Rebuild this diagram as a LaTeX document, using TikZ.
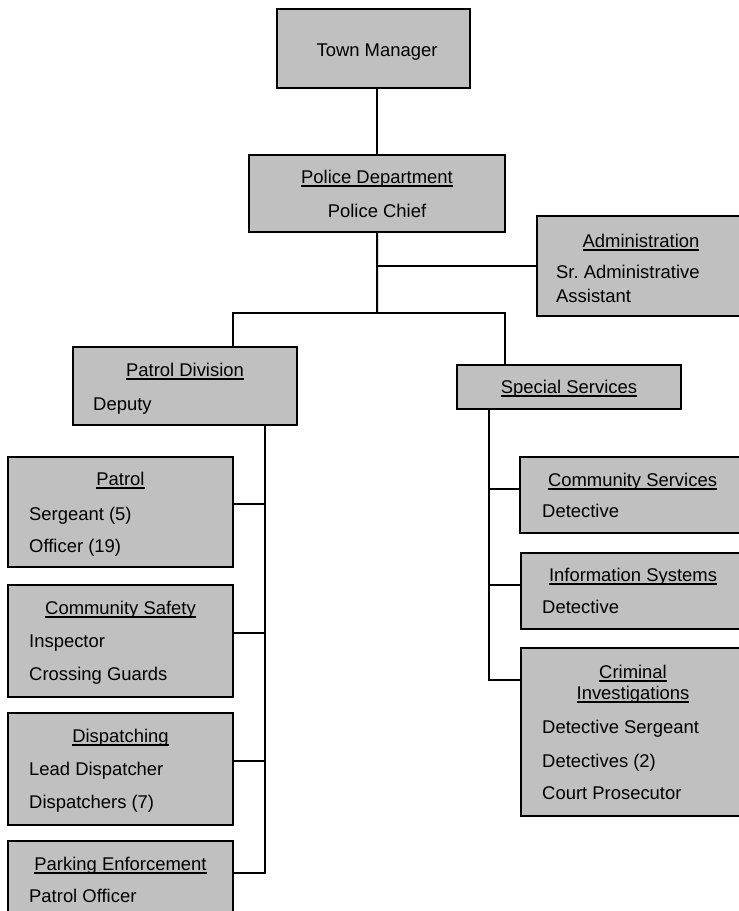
\documentclass[tikz,border=0pt]{standalone}
\usepackage{fontspec}
\setmainfont{Liberation Sans}
\definecolor{boxgray}{HTML}{C0C0C0}
\newcommand{\undl}[1]{\setbox0\hbox{#1}\rlap{\vrule height -2.2bp depth 3.6bp width \wd0}\box0}

\begin{document}
\begin{tikzpicture}[x=1bp,y=-1bp,
	unit/.style={shape=rectangle,draw=black,line width=2bp,fill=boxgray,anchor=north west,inner sep=0pt,outer sep=0pt},
	head/.style={anchor=base,inner sep=0pt,font=\fontsize{18.5}{21}\selectfont},
	item/.style={anchor=base west,inner sep=0pt,font=\fontsize{18.5}{21}\selectfont},
	link/.style={line width=2bp}]
	\clip (0,0) rectangle (739,911);

	% boxes
	\node (townMgr) at (277,9)[unit,minimum width=193bp,minimum height=79bp] {};
	\node (policeDep) at (249,155)[unit,minimum width=256bp,minimum height=77bp] {};
	\node (admin) at (537,216)[unit,minimum width=208bp,minimum height=100bp] {};
	\node (patrolDiv) at (73,347)[unit,minimum width=224bp,minimum height=78bp] {};
	\node (specServ) at (457,365)[unit,minimum width=224bp,minimum height=44bp] {};
	\node (patrol) at (8,457)[unit,minimum width=225bp,minimum height=110bp] {};
	\node (commSafe) at (8,585)[unit,minimum width=225bp,minimum height=112bp] {};
	\node (dispatch) at (8,713)[unit,minimum width=225bp,minimum height=112bp] {};
	\node (parking) at (8,841)[unit,minimum width=225bp,minimum height=112bp] {};
	\node (commServ) at (520,457)[unit,minimum width=225bp,minimum height=76bp] {};
	\node (infoSys) at (521,553)[unit,minimum width=224bp,minimum height=76bp] {};
	\node (crimInv) at (521,648)[unit,minimum width=224bp,minimum height=168bp] {};

	% texts
	\node (townMgrT) at (377,56)[head] {Town Manager};
	\node (policeDepT) at (377,183)[head] {\undl{Police Department}};
	\node (policeDepA) at (377,217)[head] {Police Chief};
	\node (adminT) at (641,247)[head] {\undl{Administration}};
	\node (adminA) at (556,278)[item] {Sr.\ Administrative};
	\node (adminB) at (556,302)[item] {Assistant};
	\node (patrolDivT) at (185,376)[head] {\undl{Patrol Division}};
	\node (patrolDivA) at (93,410)[item] {Deputy};
	\node (specServT) at (569,393)[head] {\undl{Special Services}};
	\node (patrolT) at (120.5,485)[head] {\undl{Patrol}};
	\node (patrolA) at (29,520)[item] {Sergeant (5)};
	\node (patrolB) at (29,552)[item] {Officer (19)};
	\node (commSafeT) at (120.5,614)[head] {\undl{Community Safety}};
	\node (commSafeA) at (29,647)[item] {Inspector};
	\node (commSafeB) at (29,680)[item] {Crossing Guards};
	\node (dispatchT) at (120.5,742)[head] {\undl{Dispatching}};
	\node (dispatchA) at (29,775)[item] {Lead Dispatcher};
	\node (dispatchB) at (29,808)[item] {Dispatchers (7)};
	\node (parkingT) at (120.5,870)[head] {\undl{Parking Enforcement}};
	\node (parkingA) at (29,902)[item] {Patrol Officer};
	\node (commServT) at (632.5,486)[head] {\undl{Community Services}};
	\node (commServA) at (542,517)[item] {Detective};
	\node (infoSysT) at (633,581)[head] {\undl{Information Systems}};
	\node (infoSysA) at (542,613)[item] {Detective};
	\node (crimInvT) at (633,678)[head] {\undl{Criminal}};
	\node (crimInvU) at (633,699)[head] {\undl{Investigations}};
	\node (crimInvA) at (542,733)[item] {Detective Sergeant};
	\node (crimInvB) at (542,767)[item] {Detectives (2)};
	\node (crimInvC) at (542,799)[item] {Court Prosecutor};

	% connectors
	\coordinate (split) at (377,313);
	\draw[link] (policeDep.north) -- (policeDep.north |- townMgr.south);
	\draw[link] (policeDep.south) -- (split);
	\draw[link] (admin.west) -- (admin.west -| policeDep.south);
	\draw[link] ([xshift=48bp]patrolDiv.north) |- (split) -| ([xshift=-64bp]specServ.north);

	\draw[link] ([xshift=80bp]patrolDiv.south) |- ([yshift=24bp]parking.east);
	\draw[link] ([yshift=8bp]patrol.east) -- +(32,0);
	\draw[link] ([yshift=8bp]commSafe.east) -- +(32,0);
	\draw[link] ([yshift=8bp]dispatch.east) -- +(32,0);

	\draw[link] ([xshift=-80bp]specServ.south) |- ([yshift=52bp]crimInv.west);
	\draw[link] ([yshift=6bp]commServ.west) -- +(-31,0);
	\draw[link] ([yshift=6bp]infoSys.west) -- +(-32,0);
\end{tikzpicture}
\end{document}
